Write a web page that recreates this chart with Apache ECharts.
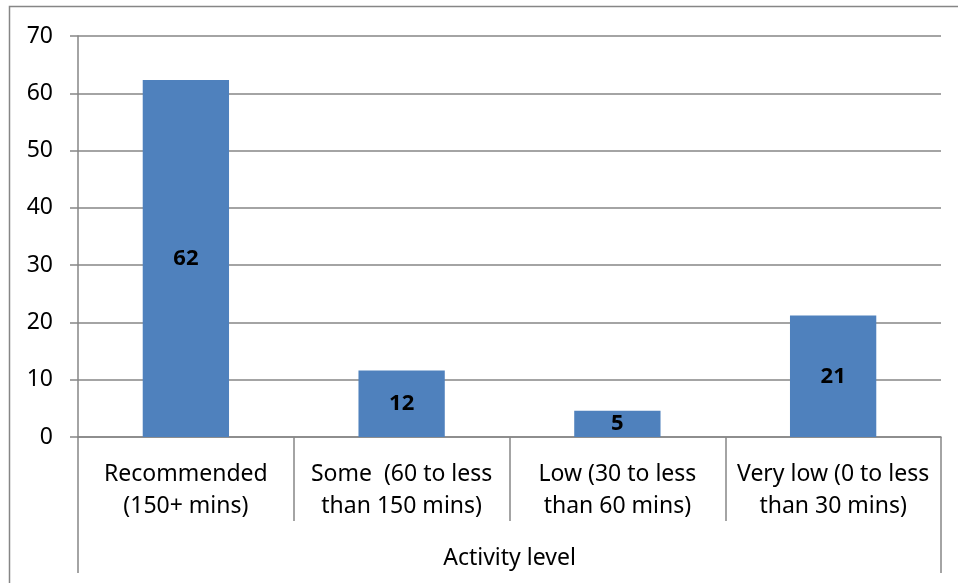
<!DOCTYPE html>
<html>
<head>
<meta charset="utf-8">
<script src="https://cdn.jsdelivr.net/npm/echarts@6/dist/echarts.min.js"></script>
<style>
  html, body { margin: 0; padding: 0; background: #fff; }
  #chart { width: 958px; height: 583px; }
</style>
</head>
<body>
<div id="chart"></div>
<script>
// values
const categories = [
  'Recommended\n(150+ mins)',
  'Some  (60 to less\nthan 150 mins)',
  'Low (30 to less\nthan 60 mins)',
  'Very low (0 to less\nthan 30 mins)'
]
const values = [62.3, 11.6, 4.6, 21.2]
const groupLabel = ['Activity level']
const yTicks = { min: 0, max: 70, interval: 10 }

const font = 'Noto Sans, sans-serif'
const lineColor = '#868686'

const myChart = echarts.init(document.getElementById('chart'))
myChart.setOption({
  animation: false,
  graphic: [
    {
      type: 'rect',
      shape: { x: 9.5, y: 6.5, width: 1000, height: 1000 },
      style: { fill: 'none', stroke: lineColor, lineWidth: 1.5 },
      silent: true
    }
  ],
  grid: { left: 78, right: 17, top: 36, bottom: 146 },
  xAxis: [
    {
      type: 'category',
      data: categories,
      axisLine: { lineStyle: { color: lineColor, width: 1.5 } },
      axisTick: { show: true, length: 84, lineStyle: { color: lineColor, width: 1.5 } },
      axisLabel: {
        color: '#000',
        fontFamily: font,
        fontSize: 23,
        lineHeight: 32,
        margin: 21,
        interval: 0
      }
    },
    {
      type: 'category',
      position: 'bottom',
      offset: 84,
      data: groupLabel,
      axisLine: { show: false },
      axisTick: { show: true, length: 52, lineStyle: { color: lineColor, width: 1.5 } },
      axisLabel: { color: '#000', fontFamily: font, fontSize: 23, margin: 26 }
    }
  ],
  yAxis: {
    type: 'value',
    min: yTicks.min,
    max: yTicks.max,
    interval: yTicks.interval,
    axisLine: { show: true, lineStyle: { color: lineColor, width: 1.5 } },
    axisTick: { show: true, length: 8, lineStyle: { color: lineColor, width: 1.5 } },
    splitLine: { lineStyle: { color: lineColor, width: 1.5 } },
    axisLabel: { color: '#000', fontFamily: font, fontSize: 23, margin: 25 }
  },
  series: [
    {
      type: 'bar',
      data: values,
      barWidth: '40%',
      itemStyle: { color: '#4F81BD' },
      label: {
        show: true,
        position: 'inside',
        color: '#000',
        fontWeight: 'bold',
        fontFamily: font,
        fontSize: 22,
        formatter: p => Math.round(p.value)
      }
    }
  ]
})
</script>
</body>
</html>
